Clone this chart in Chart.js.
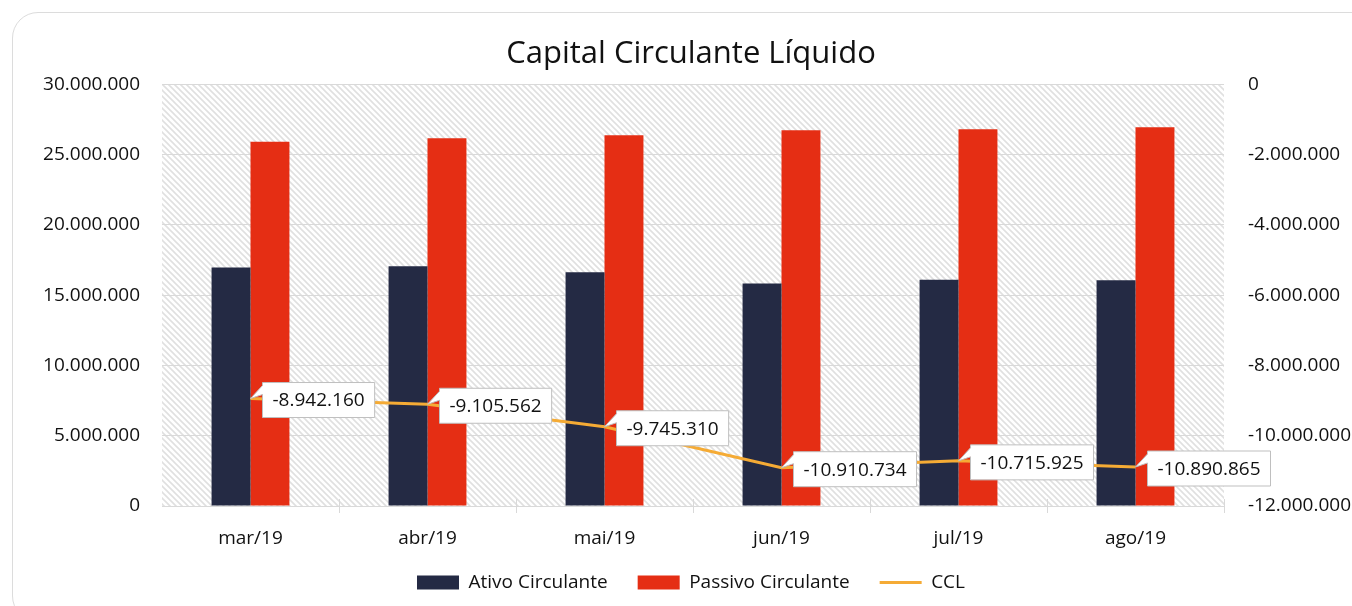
<!DOCTYPE html>
<html>
<head>
<meta charset="utf-8">
<script src="https://cdn.jsdelivr.net/npm/chart.js@4"></script>
<style>
  html, body { margin: 0; padding: 0; background: #fff; overflow: hidden; }
  #card {
    position: absolute; left: 12px; top: 12px; width: 1400px; height: 610px;
    border: 1px solid #dcdcdc; border-radius: 26px; box-sizing: border-box;
  }
  #wrap { position: absolute; left: 0; top: 0; width: 1352px; height: 606px; }
</style>
</head>
<body>
<div id="card"></div>
<div id="wrap"><canvas id="chart" width="1352" height="606"></canvas></div>
<script>
var months = ["mar/19", "abr/19", "mai/19", "jun/19", "jul/19", "ago/19"];
var ativo = [16968432, 17054438, 16624690, 15819266, 16084075, 16049135];
var passivo = [25910592, 26160000, 26370000, 26730000, 26800000, 26940000];
var ccl = [-8942160, -9105562, -9745310, -10910734, -10715925, -10890865];

var FONT = "'Open Sans', 'Noto Sans', sans-serif";

function fmt(v) {
    var s = Math.abs(Math.round(v)).toString().replace(/\B(?=(\d{3})+(?!\d))/g, ".");
    return (v < 0 ? "-" : "") + s;
}

// diagonal hatch behind the plot
var hatch = (function () {
    var c = document.createElement("canvas");
    c.width = 6; c.height = 6;
    var g = c.getContext("2d");
    g.strokeStyle = "#e0e0e0";
    g.lineWidth = 1.6;
    g.beginPath();
    g.moveTo(-1, -1); g.lineTo(7, 7);
    g.moveTo(-1, 5); g.lineTo(1, 7);
    g.moveTo(5, -1); g.lineTo(7, 1);
    g.stroke();
    return c;
})();

var bgPlugin = {
    id: "hatchBg",
    afterLayout: function (chart) {
        // let the month labels run below the axis box without being clipped
        chart.scales.x.bottom += 20;
    },
    beforeDraw: function (chart) {
        var a = chart.chartArea, ctx = chart.ctx;
        ctx.save();
        ctx.fillStyle = ctx.createPattern(hatch, "repeat");
        ctx.fillRect(a.left, a.top, a.right - a.left, a.bottom - a.top);
        ctx.restore();
    },
    afterDraw: function (chart) {
        // crossing tick marks on the category axis
        var a = chart.chartArea, ctx = chart.ctx;
        var w = (a.right - a.left) / months.length;
        ctx.save();
        ctx.strokeStyle = "#d9d9d9";
        ctx.lineWidth = 1;
        for (var i = 1; i <= months.length; i++) {
            var px = Math.round(a.left + w * i) + 0.5;
            ctx.beginPath();
            ctx.moveTo(px, a.bottom - 7);
            ctx.lineTo(px, a.bottom + 7);
            ctx.stroke();
        }
        ctx.restore();
    }
};

// callout labels on the CCL line
var calloutPlugin = {
    id: "callouts",
    afterDatasetsDraw: function (chart) {
        var ctx = chart.ctx;
        var meta = chart.getDatasetMeta(2);
        ctx.save();
        ctx.font = "19px " + FONT;
        ctx.textBaseline = "middle";
        meta.data.forEach(function (pt, i) {
            var txt = fmt(ccl[i]);
            var tw = ctx.measureText(txt).width;
            var left = pt.x + 12, top = pt.y - 16;
            var w = tw + 20, h = 35;
            ctx.fillStyle = "#fff";
            ctx.strokeStyle = "#bfbfbf";
            ctx.lineWidth = 1;
            ctx.beginPath();
            ctx.moveTo(left, top);
            ctx.lineTo(left + w, top);
            ctx.lineTo(left + w, top + h);
            ctx.lineTo(left, top + h);
            ctx.lineTo(left, top + 12);
            ctx.lineTo(pt.x, pt.y);
            ctx.lineTo(left, top + 3);
            ctx.closePath();
            ctx.fill();
            ctx.stroke();
            ctx.fillStyle = "#111";
            ctx.fillText(txt, left + 10, top + h / 2 + 1);
        });
        ctx.restore();
    }
};

new Chart(document.getElementById("chart"), {
    type: "bar",
    data: {
        labels: months,
        datasets: [
            {
                label: "Ativo Circulante",
                data: ativo,
                backgroundColor: "#242a44",
                yAxisID: "y",
                order: 2,
                pointStyle: "rect"
            },
            {
                label: "Passivo Circulante",
                data: passivo,
                backgroundColor: "#e52e14",
                yAxisID: "y",
                order: 2,
                pointStyle: "rect"
            },
            {
                type: "line",
                label: "CCL",
                data: ccl,
                borderColor: "#f5ab35",
                backgroundColor: "#f5ab35",
                borderWidth: 3,
                pointRadius: 0,
                pointStyle: "line",
                yAxisID: "y1",
                order: 1
            }
        ]
    },
    options: {
        responsive: false,
        animation: false,
        layout: { padding: { left: 30, right: 0, top: 0, bottom: 4 } },
        datasets: { bar: { categoryPercentage: 0.44, barPercentage: 1.0 } },
        plugins: {
            title: {
                display: true,
                text: "Capital Circulante Líquido",
                color: "#111",
                font: { family: FONT, size: 31, weight: "normal" },
                padding: { top: 36, bottom: 11 }
            },
            legend: {
                position: "bottom",
                labels: {
                    usePointStyle: true,
                    pointStyleWidth: 42,
                    boxHeight: 14,
                    padding: 30,
                    color: "#111",
                    font: { family: FONT, size: 19 },
                    sort: function (a, b) { return a.datasetIndex - b.datasetIndex; }
                }
            },
            tooltip: { enabled: false }
        },
        scales: {
            x: {
                afterFit: function (s) { s.height = 37; },
                grid: { display: false },
                border: { color: "#d9d9d9", width: 1 },
                ticks: { color: "#111", padding: 13, font: { family: FONT, size: 19 } }
            },
            y: {
                position: "left",
                min: 0, max: 30000000,
                afterFit: function (s) { s.width = 132; },
                grid: { color: "#d9d9d9", drawTicks: false },
                border: { display: false },
                ticks: {
                    stepSize: 5000000, padding: 22, color: "#111",
                    font: { family: FONT, size: 19 },
                    callback: function (v) { return fmt(v); }
                }
            },
            y1: {
                position: "right",
                min: -12000000, max: 0,
                afterFit: function (s) { s.width = 128; },
                grid: { display: false, drawTicks: false },
                border: { display: false },
                ticks: {
                    stepSize: 2000000, padding: 24, color: "#111",
                    font: { family: FONT, size: 19 },
                    callback: function (v) { return fmt(v); }
                }
            }
        }
    },
    plugins: [bgPlugin, calloutPlugin]
});
</script>
</body>
</html>
